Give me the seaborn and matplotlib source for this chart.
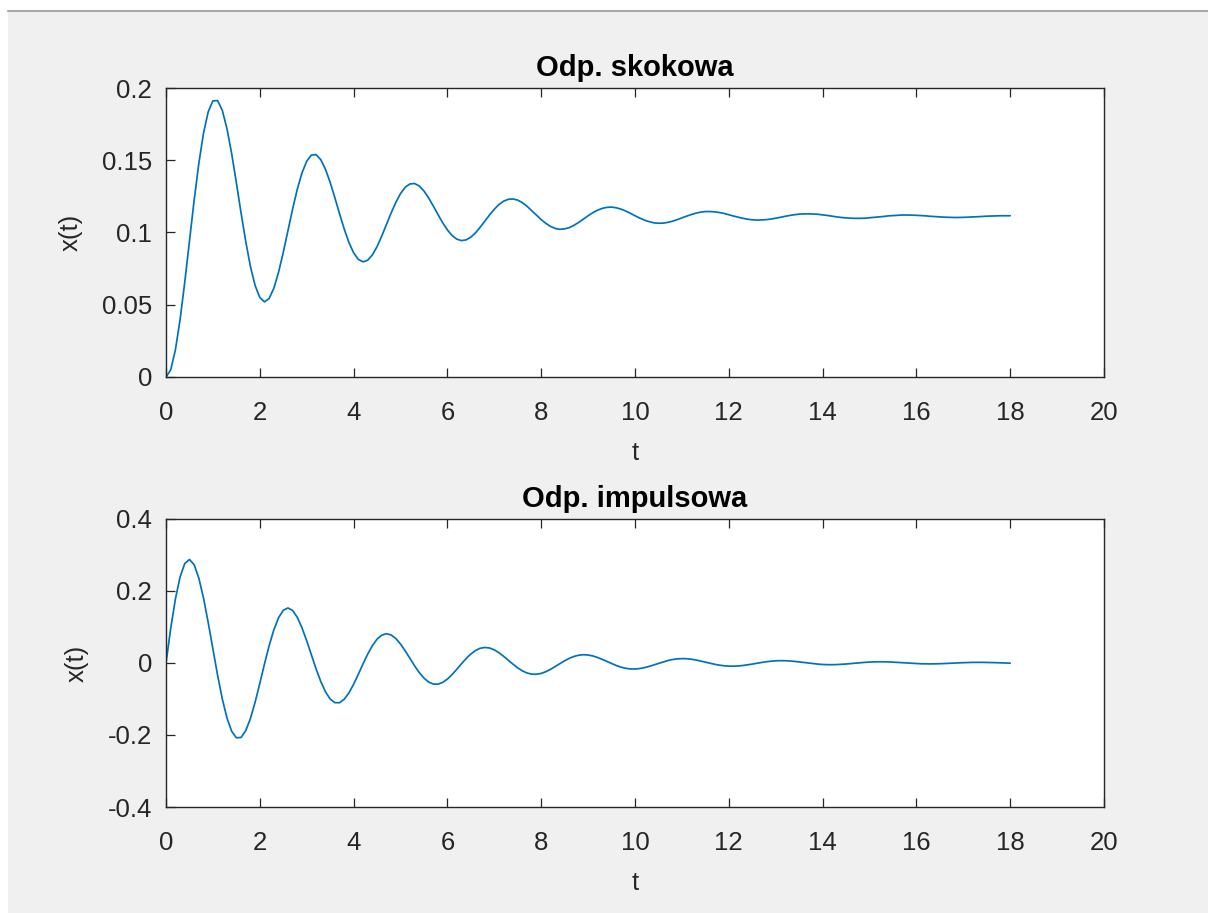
import numpy as np
import pandas as pd
import matplotlib
matplotlib.use("Agg")
import matplotlib.pyplot as plt
import seaborn as sns
from matplotlib.patches import Rectangle
from matplotlib.lines import Line2D

# time samples (s)
t = [round(0.1 * i, 1) for i in range(181)]

# step response x(t)
step_resp = [
    0.0000, 0.0049, 0.0187, 0.0397, 0.0656, 0.0940, 0.1223, 0.1479, 0.1688, 0.1835,
    0.1911, 0.1913, 0.1846, 0.1718, 0.1546, 0.1345, 0.1136, 0.0938, 0.0765, 0.0633,
    0.0550, 0.0520, 0.0544, 0.0615, 0.0725, 0.0862, 0.1013, 0.1163, 0.1301, 0.1413,
    0.1493, 0.1536, 0.1539, 0.1504, 0.1438, 0.1347, 0.1241, 0.1130, 0.1024, 0.0931,
    0.0860, 0.0814, 0.0797, 0.0808, 0.0845, 0.0902, 0.0975, 0.1055, 0.1135, 0.1208,
    0.1269, 0.1313, 0.1336, 0.1339, 0.1322, 0.1287, 0.1239, 0.1183, 0.1124, 0.1067,
    0.1018, 0.0979, 0.0954, 0.0944, 0.0949, 0.0968, 0.0998, 0.1037, 0.1079, 0.1122,
    0.1161, 0.1194, 0.1217, 0.1230, 0.1232, 0.1224, 0.1206, 0.1181, 0.1151, 0.1120,
    0.1089, 0.1063, 0.1042, 0.1028, 0.1022, 0.1025, 0.1034, 0.1050, 0.1070, 0.1093,
    0.1116, 0.1137, 0.1154, 0.1167, 0.1174, 0.1176, 0.1171, 0.1162, 0.1149, 0.1133,
    0.1116, 0.1100, 0.1086, 0.1075, 0.1067, 0.1064, 0.1065, 0.1070, 0.1078, 0.1089,
    0.1101, 0.1113, 0.1124, 0.1134, 0.1141, 0.1145, 0.1145, 0.1143, 0.1138, 0.1132,
    0.1123, 0.1114, 0.1106, 0.1098, 0.1092, 0.1088, 0.1086, 0.1087, 0.1089, 0.1093,
    0.1099, 0.1105, 0.1112, 0.1118, 0.1123, 0.1127, 0.1129, 0.1129, 0.1128, 0.1126,
    0.1122, 0.1118, 0.1113, 0.1108, 0.1104, 0.1101, 0.1099, 0.1098, 0.1098, 0.1099,
    0.1102, 0.1105, 0.1108, 0.1111, 0.1115, 0.1117, 0.1119, 0.1121, 0.1121, 0.1120,
    0.1119, 0.1117, 0.1115, 0.1112, 0.1110, 0.1108, 0.1106, 0.1105, 0.1104, 0.1104,
    0.1105, 0.1106, 0.1108, 0.1109, 0.1111, 0.1113, 0.1114, 0.1115, 0.1116, 0.1116,
    0.1116,
]

# impulse response x(t)
impulse_resp = [
    0.0000, 0.0956, 0.1774, 0.2390, 0.2763, 0.2875, 0.2731, 0.2358, 0.1803, 0.1124,
    0.0387, -0.0341, -0.0996, -0.1528, -0.1895, -0.2077, -0.2069, -0.1881, -0.1542, -0.1088,
    -0.0567, -0.0026, 0.0485, 0.0924, 0.1258, 0.1463, 0.1529, 0.1459, 0.1267, 0.0975,
    0.0617, 0.0225, -0.0163, -0.0514, -0.0800, -0.1001, -0.1102, -0.1103, -0.1007, -0.0830,
    -0.0592, -0.0315, -0.0028, 0.0245, 0.0481, 0.0662, 0.0774, 0.0813, 0.0779, 0.0680,
    0.0527, 0.0338, 0.0130, -0.0077, -0.0265, -0.0419, -0.0528, -0.0585, -0.0588, -0.0539,
    -0.0447, -0.0321, -0.0175, -0.0022, 0.0124, 0.0250, 0.0348, 0.0410, 0.0432, 0.0416,
    0.0365, 0.0285, 0.0185, 0.0075, -0.0035, -0.0136, -0.0219, -0.0279, -0.0310, -0.0313,
    -0.0289, -0.0241, -0.0175, -0.0097, -0.0016, 0.0062, 0.0130, 0.0183, 0.0217, 0.0230,
    0.0222, 0.0196, 0.0154, 0.0101, 0.0043, -0.0016, -0.0070, -0.0115, -0.0147, -0.0164,
    -0.0167, -0.0154, -0.0130, -0.0095, -0.0054, -0.0011, 0.0031, 0.0068, 0.0096, 0.0115,
    0.0122, 0.0119, 0.0105, 0.0083, 0.0055, 0.0024, -0.0007, -0.0036, -0.0060, -0.0077,
    -0.0087, -0.0089, -0.0083, -0.0070, -0.0051, -0.0030, -0.0007, 0.0015, 0.0035, 0.0050,
    0.0061, 0.0065, 0.0063, 0.0056, 0.0045, 0.0030, 0.0014, -0.0003, -0.0018, -0.0031,
    -0.0041, -0.0046, -0.0047, -0.0044, -0.0037, -0.0028, -0.0016, -0.0004, 0.0008, 0.0018,
    0.0026, 0.0032, 0.0034, 0.0034, 0.0030, 0.0024, 0.0016, 0.0008, -0.0001, -0.0009,
    -0.0016, -0.0022, -0.0024, -0.0025, -0.0024, -0.0020, -0.0015, -0.0009, -0.0003, 0.0004,
    0.0009, 0.0014, 0.0017, 0.0018, 0.0018, 0.0016, 0.0013, 0.0009, 0.0004, 0.0000,
    -0.0005,
]

titles = ["Odp. skokowa", "Odp. impulsowa"]
x_label = "t"
y_label = "x(t)"
x_ticks = [0, 2, 4, 6, 8, 10, 12, 14, 16, 18, 20]
y_ticks_step = [0, 0.05, 0.1, 0.15, 0.2]
y_labels_step = ["0", "0.05", "0.1", "0.15", "0.2"]
y_ticks_imp = [-0.4, -0.2, 0, 0.2, 0.4]
y_labels_imp = ["-0.4", "-0.2", "0", "0.2", "0.4"]

sns.set_theme(style="ticks")
plt.rcParams["font.family"] = ["Liberation Sans", "DejaVu Sans"]
plt.rcParams["axes.unicode_minus"] = False

W, H = 1208, 913
fig = plt.figure(figsize=(W / 100, H / 100), dpi=100, facecolor="#f0f0f0")

# window chrome: white strip on top and left, thin grey line
fig.patches.append(Rectangle((0, (H - 10) / H), 1, 10 / H, transform=fig.transFigure,
                             facecolor="white", edgecolor="none", zorder=0))
fig.patches.append(Rectangle((0, 0), 8 / W, (H - 10) / H, transform=fig.transFigure,
                             facecolor="white", edgecolor="none", zorder=0))
fig.lines.append(Line2D([8 / W, 1], [(H - 11) / H, (H - 11) / H], transform=fig.transFigure,
                        color="#a8a8a8", lw=1.5, zorder=1))

def px_axes(left, top, right, bottom):
    return fig.add_axes([left / W, (H - bottom) / H, (right - left) / W, (bottom - top) / H])

ax1 = px_axes(166, 88, 1104, 377)
ax2 = px_axes(166, 519, 1104, 807)

df_step = pd.DataFrame({"t": t, "x": step_resp})
df_imp = pd.DataFrame({"t": t, "x": impulse_resp})

line_color = "#0072BD"
axis_color = "#262626"
fs = 18.5

for ax, df, title, yt, yl, ylim in [
    (ax1, df_step, titles[0], y_ticks_step, y_labels_step, (0, 0.2)),
    (ax2, df_imp, titles[1], y_ticks_imp, y_labels_imp, (-0.4, 0.4)),
]:
    sns.lineplot(data=df, x="t", y="x", ax=ax, color=line_color, linewidth=1.25,
                 errorbar=None, estimator=None, sort=False)
    ax.set_facecolor("white")
    ax.set_xlim(0, 20)
    ax.set_ylim(*ylim)
    ax.set_xticks(x_ticks)
    ax.set_xticklabels([str(v) for v in x_ticks])
    ax.set_yticks(yt)
    ax.set_yticklabels(yl)
    for side in ["top", "right", "bottom", "left"]:
        ax.spines[side].set_visible(True)
        ax.spines[side].set_color(axis_color)
        ax.spines[side].set_linewidth(1.0)
    ax.tick_params(axis="both", direction="in", length=6.5, width=0.9, color=axis_color,
                   labelcolor=axis_color, labelsize=fs, top=True, right=False)
    ax.tick_params(axis="x", pad=17)
    ax.tick_params(axis="y", pad=10)
    ax.set_xlabel(x_label, fontsize=fs, color=axis_color, labelpad=12)
    ax.set_ylabel(y_label, fontsize=fs, color=axis_color, labelpad=14)
    ax.set_title(title, fontsize=21, fontweight="bold", color="black", pad=8.5)

fig.savefig("out.png", dpi=100, facecolor=fig.get_facecolor())
